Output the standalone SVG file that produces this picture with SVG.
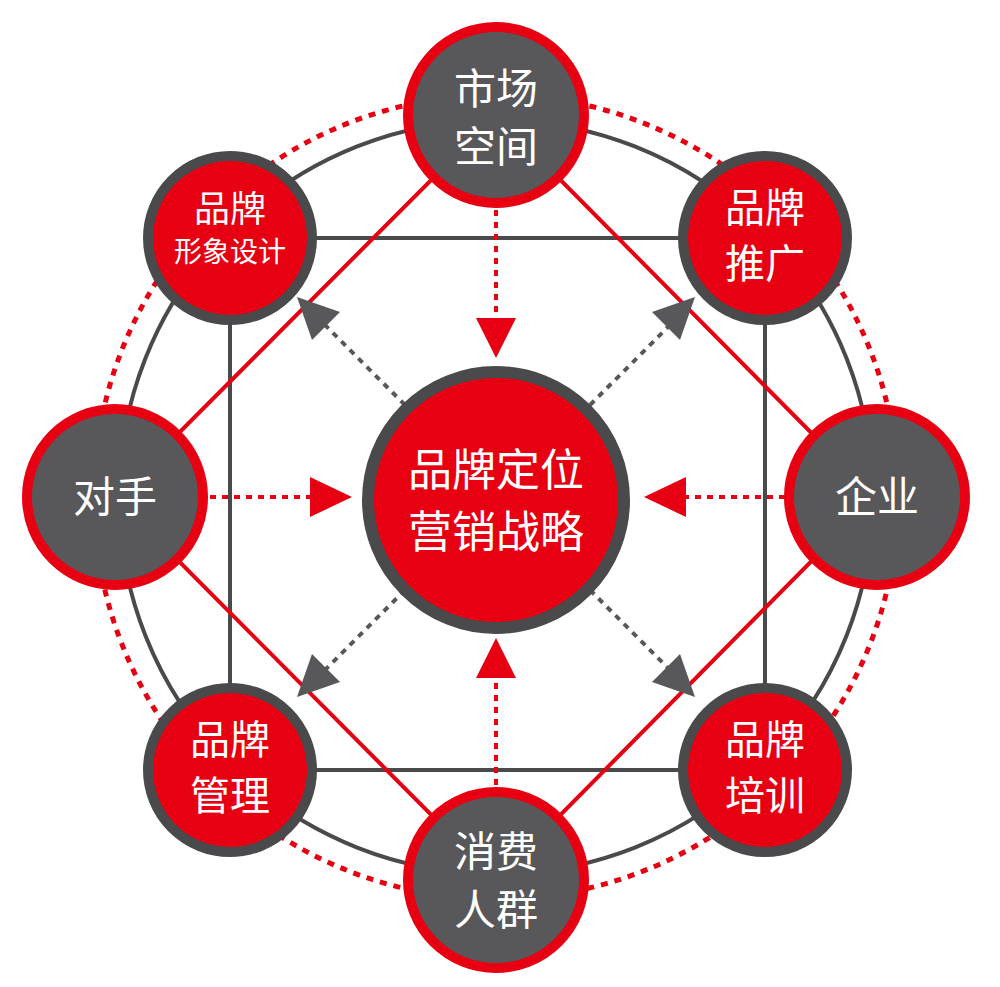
<svg xmlns="http://www.w3.org/2000/svg" width="1000" height="987" viewBox="0 0 1000 987">
<defs>
<style>
.t{font-family:"Noto Sans CJK SC","Noto Sans",sans-serif;fill:#fff;text-anchor:middle}
.gn{fill:#58585a;stroke:#e60012;stroke-width:10}
.rn{fill:#e60012;stroke:#4a4a4c;stroke-width:10}
.rd{stroke:#e60012;stroke-width:4;stroke-dasharray:6 6;fill:none}
.gd{stroke:#58585a;stroke-width:4;stroke-dasharray:6 6;fill:none}
</style>
</defs>
<rect width="1000" height="987" fill="#fff"/>
<g id="connectors">
<circle cx="496" cy="497" r="402" fill="none" stroke="#e60012" stroke-width="5" stroke-dasharray="7 7"/>
<circle cx="496" cy="497" r="377" fill="none" stroke="#4a4a4c" stroke-width="4"/>
<rect x="230" y="238" width="535" height="532" fill="none" stroke="#4a4a4c" stroke-width="4"/>
<path d="M496,115L875,497L496,880L115,497Z" fill="none" stroke="#e60012" stroke-width="4"/>
<path class="rd" d="M496,210V320"/>
<path class="rd" d="M496,785V675"/>
<path class="rd" d="M210,497H310"/>
<path class="rd" d="M785,497H685"/>
<path class="gd" d="M405,405L325,325"/>
<path class="gd" d="M590,405L668,327"/>
<path class="gd" d="M405,590L325,670"/>
<path class="gd" d="M590,590L668,668"/>
<path d="M476,318L516,318L496,358Z" fill="#e60012"/>
<path d="M476,678L516,678L496,638Z" fill="#e60012"/>
<path d="M310,477L310,517L352,497Z" fill="#e60012"/>
<path d="M686,477L686,517L644,497Z" fill="#e60012"/>
<path d="M297,297L340,312L312,340Z" fill="#58585a"/>
<path d="M695,297L652,312L680,340Z" fill="#58585a"/>
<path d="M297,697L340,682L312,654Z" fill="#58585a"/>
<path d="M695,697L652,682L680,654Z" fill="#58585a"/>
</g>
<g id="center"><circle cx="496" cy="500" r="128" class="rn" style="stroke-width:12"/>
<text class="t" x="496" y="486" font-size="44">品牌定位</text><text class="t" x="496" y="548" font-size="44">营销战略</text></g>
<g id="n-top"><circle cx="496" cy="115" r="88" class="gn"/><text class="t" x="496" y="104" font-size="42">市场</text><text class="t" x="496" y="162" font-size="42">空间</text></g>
<g id="n-left"><circle cx="115" cy="497" r="88" class="gn"/><text class="t" x="115" y="512" font-size="42">对手</text></g>
<g id="n-right"><circle cx="877" cy="497" r="88" class="gn"/><text class="t" x="877" y="512" font-size="42">企业</text></g>
<g id="n-bottom"><circle cx="496" cy="880" r="88" class="gn"/><text class="t" x="496" y="867" font-size="42">消费</text><text class="t" x="496" y="925" font-size="42">人群</text></g>
<g id="n-tl"><circle cx="230" cy="238" r="82" class="rn"/><text class="t" x="230" y="222" font-size="36">品牌</text><text class="t" x="230" y="262" font-size="28">形象设计</text></g>
<g id="n-tr"><circle cx="765" cy="238" r="82" class="rn"/><text class="t" x="765" y="222" font-size="40">品牌</text><text class="t" x="765" y="278" font-size="40">推广</text></g>
<g id="n-bl"><circle cx="230" cy="770" r="82" class="rn"/><text class="t" x="230" y="754" font-size="40">品牌</text><text class="t" x="230" y="810" font-size="40">管理</text></g>
<g id="n-br"><circle cx="765" cy="770" r="82" class="rn"/><text class="t" x="765" y="754" font-size="40">品牌</text><text class="t" x="765" y="810" font-size="40">培训</text></g>
</svg>
